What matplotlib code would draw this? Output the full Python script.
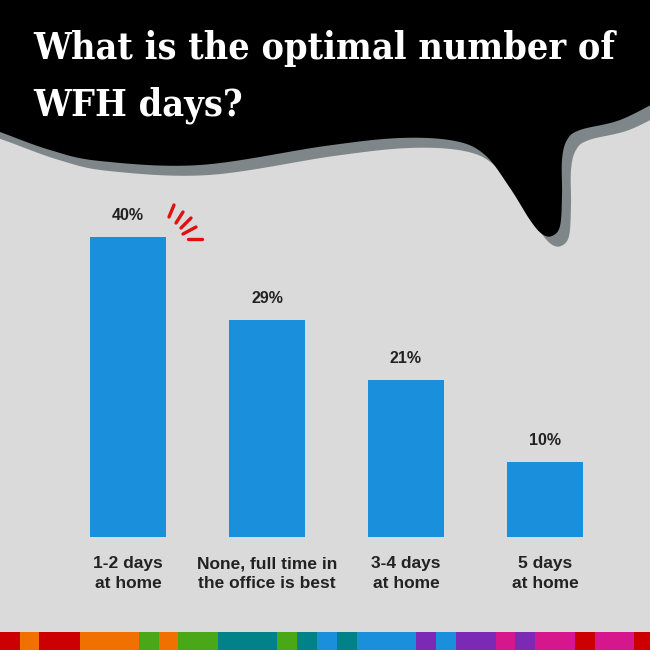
import numpy as np
import matplotlib
matplotlib.use("Agg")
import matplotlib.pyplot as plt
from matplotlib.patches import Polygon

# data
categories = ["1-2 days\nat home", "None, full time in\nthe office is best",
              "3-4 days\nat home", "5 days\nat home"]
shares = [40, 29, 21, 10]
value_labels = ["40%", "29%", "21%", "10%"]

title_lines = ["What is the optimal number of", "WFH days?"]

# decorative stripe along the bottom (widths in px, colours)
stripe_widths = [20, 19, 41, 59, 20, 19, 40, 59, 20, 20, 20, 20, 59, 20, 20, 40, 19, 20, 40, 20, 39, 16]
stripe_colors = ["#cc0000", "#f07000", "#cc0000", "#f07000", "#4aa818", "#f07000", "#4aa818",
                 "#008288", "#4aa818", "#008288", "#1a8fdc", "#008288", "#1a8fdc", "#7b2ab5",
                 "#1a8fdc", "#7b2ab5", "#d6168c", "#7b2ab5", "#d6168c", "#cc0000", "#d6168c", "#cc0000"]

BG = "#dadadb"
BAR = "#1a8fdc"
TXT = "#222222"

fig = plt.figure(figsize=(6.5, 6.5), dpi=100, facecolor=BG)

# background axes in pixel coordinates (y down)
bg = fig.add_axes([0, 0, 1, 1])
bg.set_xlim(0, 650)
bg.set_ylim(650, 0)
bg.axis("off")


def catmull(pts, n=20):
    pts = np.asarray(pts, float)
    p = np.vstack([pts[0], pts, pts[-1]])
    out = []
    for i in range(1, len(p) - 2):
        p0, p1, p2, p3 = p[i - 1], p[i], p[i + 1], p[i + 2]
        t = np.linspace(0, 1, n, endpoint=False)[:, None]
        out.append(0.5 * ((2 * p1) + (-p0 + p2) * t + (2 * p0 - 5 * p1 + 4 * p2 - p3) * t ** 2
                          + (-p0 + 3 * p1 - 3 * p2 + p3) * t ** 3))
    out.append(pts[-1][None, :])
    return np.vstack(out)


edge = [(-40, 118), (-20, 125), (0, 132), (50, 150), (100, 161), (200, 165), (325, 146),
        (400, 138), (455, 141), (485, 155), (510, 188), (530, 220), (542, 234), (552, 236),
        (560, 226), (562, 195), (562, 160), (567, 140), (580, 130), (620, 120), (660, 100)]
curve = catmull(edge)
blob = np.vstack([[-40, -5], curve, [660, -5]])

shadow = blob + np.array([9, 10])
bg.add_patch(Polygon(shadow, closed=True, facecolor="#7f8689", edgecolor="none", zorder=1))
bg.add_patch(Polygon(blob, closed=True, facecolor="black", edgecolor="none", zorder=2))

for line, base in zip(title_lines, [59, 115]):
    bg.text(33, base, line, color="white", fontsize=27, fontweight="bold",
            fontfamily="DejaVu Serif", fontstretch="condensed", va="baseline", ha="left",
            zorder=3)

# bottom stripe
lefts = np.concatenate([[0], np.cumsum(stripe_widths)[:-1]])
bg.barh(641, stripe_widths, left=lefts, height=18, color=stripe_colors, zorder=3)

# red emphasis strokes next to the top bar
for (xa, ya, xb, yb) in [(169, 217, 174, 205), (176, 223, 183, 212), (181, 228, 191, 218),
                         (183, 234, 196, 227), (188, 239, 202, 239)]:
    bg.plot([xa, xb], [ya, yb], color="#e01010", lw=2.4, solid_capstyle="round", zorder=3)

# bar chart axes
px_unit = 139
x0 = 128
ax = fig.add_axes([0, 113 / 650, 1, 400 / 650])
ax.set_facecolor("none")
ax.set_xlim(-x0 / px_unit, (650 - x0) / px_unit)
ax.set_ylim(0, 400 / 7.5)
ax.axis("off")

xs = np.arange(len(categories))
ax.bar(xs, shares, width=76 / px_unit, color=BAR, zorder=2)
for x, v, lab in zip(xs, shares, value_labels):
    ax.annotate(lab, (x, v), xytext=(0, 10), textcoords="offset points", ha="center",
                va="bottom", fontsize=11.5, fontweight="bold", color=TXT,
                fontfamily="Liberation Sans")
for x, lab in zip(xs, categories):
    ax.annotate(lab, (x, 0), xytext=(0, -14), textcoords="offset points", ha="center",
                va="top", fontsize=12.5, fontweight="bold", color=TXT,
                fontfamily="Liberation Sans", linespacing=1.35)

fig.savefig("out.png", dpi=100, facecolor=BG)
